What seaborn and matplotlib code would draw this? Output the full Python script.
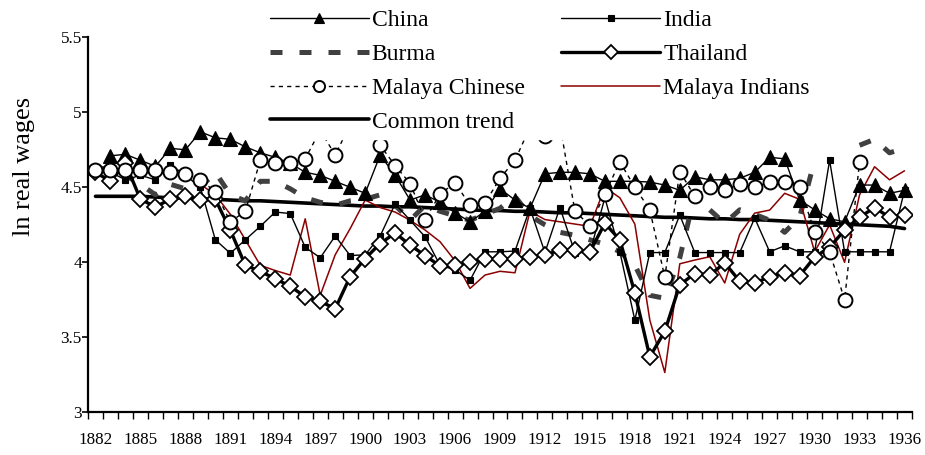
import numpy as np
import pandas as pd
import matplotlib
matplotlib.use("Agg")
import matplotlib.pyplot as plt
import seaborn as sns

# ---- data: log real wages, 1882-1936 ----
years = list(range(1882, 1937))
nan = np.nan

china = [nan, 4.71, 4.72, 4.68, 4.64, 4.76, 4.75, 4.87, 4.83, 4.82,
         4.77, 4.73, 4.70, 4.66, 4.60, 4.58, 4.54, 4.50, 4.46, 4.715,
         4.58, 4.415, 4.45, 4.40, 4.33, 4.27, 4.34, 4.49, 4.415, 4.36,
         4.59, 4.60, 4.60, 4.59, 4.54, 4.54, 4.54, 4.535, 4.515, 4.48,
         4.57, 4.55, 4.55, 4.56, 4.60, 4.70, 4.69, 4.415, 4.35, 4.29,
         4.27, 4.515, 4.515, 4.46, 4.48]

india = [4.62, 4.60, 4.55, 4.58, 4.55, 4.65, 4.58, 4.50, 4.15, 4.06,
         4.15, 4.24, 4.335, 4.325, 4.10, 4.03, 4.175, 4.045, 4.05, 4.175,
         4.39, 4.28, 4.17, 3.98, 3.95, 3.88, 4.07, 4.07, 4.075, 4.36,
         4.065, 4.365, 4.065, 4.065, 4.43, 4.07, 3.615, 4.065, 4.065, 4.315,
         4.065, 4.065, 4.065, 4.065, 4.295, 4.07, 4.11, 4.07, 4.07, 4.68,
         4.07, 4.07, 4.07, 4.07, 4.48]

burma = [4.62, 4.63, 4.58, 4.52, 4.45, 4.52, 4.49, 4.50, 4.60, 4.45,
         4.41, 4.54, 4.54, 4.49, 4.43, 4.40, 4.38, 4.41, 4.42, 4.45,
         4.38, 4.28, 4.38, 4.34, 4.31, 4.28, 4.32, 4.36, 4.44, 4.31,
         4.25, 4.20, 4.18, 4.15, 4.12, 4.07, 3.98, 3.78, 3.76, 4.03,
         4.45, 4.35, 4.26, 4.35, 4.32, 4.28, 4.20, 4.30, 4.68, nan,
         nan, 4.78, 4.82, 4.73, 4.76]

thailand = [4.60, 4.54, 4.66, 4.42, 4.37, 4.42, 4.44, 4.415, 4.42, 4.215,
            3.98, 3.94, 3.89, 3.84, 3.77, 3.74, 3.69, 3.905, 4.025, 4.125,
            4.195, 4.115, 4.045, 3.975, 3.98, 4.00, 4.02, 4.02, 4.025, 4.035,
            4.05, 4.08, 4.08, 4.07, 4.26, 4.15, 3.795, 3.37, 3.54, 3.85,
            3.925, 3.915, 3.995, 3.875, 3.86, 3.905, 3.93, 3.91, 4.035, 4.10,
            4.215, 4.30, 4.365, 4.30, 4.315]

malaya_chinese = [4.615, 4.615, 4.615, 4.615, 4.615, 4.60, 4.59, 4.55, 4.47, 4.27,
                  4.34, 4.68, 4.66, 4.66, 4.69, 4.88, 4.715, 4.92, 4.90, 4.78,
                  4.645, 4.525, 4.285, 4.455, 4.53, 4.38, 4.395, 4.56, 4.68, 4.90,
                  4.845, 4.92, 4.34, 4.245, 4.455, 4.67, 4.50, 4.35, 3.90, 4.605,
                  4.44, 4.505, 4.48, 4.525, 4.50, 4.535, 4.535, 4.50, 4.205, 4.07,
                  3.75, 4.67, nan, nan, nan]

malaya_indians = [nan, nan, nan, nan, nan, nan, nan, 4.52, 4.45, 4.32,
                  4.15, 3.98, 3.945, 3.915, 4.29, 3.78, 4.05, 4.225, 4.415, 4.365,
                  4.335, 4.28, 4.215, 4.137, 4.01, 3.826, 3.915, 3.94, 3.93, 4.34,
                  4.285, 4.27, 4.255, 4.24, 4.50, 4.43, 4.255, 3.615, 3.265, 3.99,
                  4.015, 4.037, 3.862, 4.187, 4.328, 4.348, 4.46, 4.42, 4.07, 4.25,
                  4.00, 4.45, 4.637, 4.55, 4.61]

common_trend = [4.44, 4.44, 4.44, 4.44, 4.435, 4.43, 4.43, 4.425, 4.42, 4.415,
                4.41, 4.41, 4.405, 4.40, 4.395, 4.39, 4.385, 4.38, 4.375, 4.375,
                4.37, 4.37, 4.365, 4.36, 4.355, 4.35, 4.345, 4.345, 4.34, 4.34,
                4.335, 4.33, 4.33, 4.325, 4.32, 4.315, 4.31, 4.305, 4.30, 4.30,
                4.295, 4.29, 4.29, 4.285, 4.285, 4.28, 4.275, 4.27, 4.265, 4.26,
                4.255, 4.25, 4.245, 4.24, 4.225]

series_labels = ["China", "India", "Burma", "Thailand",
                 "Malaya Chinese", "Malaya Indians", "Common trend"]
y_ticks = [3, 3.5, 4, 4.5, 5, 5.5]
y_tick_labels = ["3", "3.5", "4", "4.5", "5", "5.5"]
x_label_years = years[::3]

# ---- styling ----
sns.set_theme(style="white")
plt.rcParams["font.family"] = ["Liberation Serif", "DejaVu Serif"]
plt.rcParams["axes.linewidth"] = 1.6
for key in ("text.color", "axes.labelcolor", "xtick.color", "ytick.color",
            "axes.edgecolor"):
    plt.rcParams[key] = "black"

fig = plt.figure(figsize=(9.25, 4.55), dpi=100)
ax = fig.add_axes([88 / 925, 1 - 412.3 / 455, 824 / 925, 375 / 455])


def draw(values, z, **kw):
    """Draw one series, leaving gaps where values are missing."""
    s = pd.Series(values, index=years, dtype=float)
    run_id = s.isna().cumsum()
    first = None
    valid = s.dropna()
    for _, part in valid.groupby(run_id[s.notna()]):
        sns.lineplot(x=part.index.to_numpy(), y=part.to_numpy(), ax=ax,
                     estimator=None, errorbar=None, sort=False, legend=False,
                     zorder=z, **kw)
        if first is None:
            first = ax.lines[-1]
    return first


h_trend = draw(common_trend, 2.0, color="black", linewidth=2.6,
               label=series_labels[6])
h_burma = draw(burma, 2.2, color="#404040", linewidth=3.6,
               linestyle=(0, (2.4, 3.4)), label=series_labels[2])
h_mind = draw(malaya_indians, 2.4, color="#8b0000", linewidth=1.1,
              label=series_labels[5])
h_china = draw(china, 2.6, color="black", linewidth=1.0, marker="^",
               markersize=9.5, markerfacecolor="black",
               markeredgecolor="black", markeredgewidth=0.8,
               label=series_labels[0])
h_india = draw(india, 2.8, color="black", linewidth=1.0, marker="s",
               markersize=5, markerfacecolor="black",
               markeredgecolor="black", markeredgewidth=0.8,
               label=series_labels[1])
h_thai = draw(thailand, 3.0, color="black", linewidth=2.4, marker="D",
              markersize=8.3, markerfacecolor="white",
              markeredgecolor="black", markeredgewidth=1.3,
              label=series_labels[3])
h_mchi = draw(malaya_chinese, 3.2, color="black", linewidth=1.0,
              linestyle=(0, (3, 3)), marker="o", markersize=10,
              markerfacecolor="white", markeredgecolor="black",
              markeredgewidth=1.4, label=series_labels[4])

if ax.get_legend() is not None:
    ax.get_legend().remove()

# ---- axes ----
ax.set_xlim(1881.5, 1936.5)
ax.set_ylim(3, 5.5)
ax.set_xticks(x_label_years)
ax.set_xticklabels([str(y) for y in x_label_years], fontsize=12.3)
ax.set_xticks(np.arange(1881.5, 1937, 1.0), minor=True)
ax.tick_params(axis="x", which="major", length=0, pad=14)
ax.tick_params(axis="x", which="minor", length=5, width=1.0,
               direction="out", bottom=True, color="black")
ax.set_yticks(y_ticks)
ax.set_yticklabels(y_tick_labels, fontsize=12.3)
ax.tick_params(axis="y", which="major", length=4, width=1.2,
               direction="out", left=True, color="black", pad=0.5)
ax.set_xlabel("")
ax.set_ylabel("ln real wages", fontsize=19)
ax.yaxis.set_label_coords(-0.064, 0.655)

for side in ("top", "right"):
    ax.spines[side].set_visible(False)
ax.grid(False)

handles = [h_china, h_burma, h_mchi, h_trend, h_india, h_thai, h_mind]
labels = [h.get_label() for h in handles]
leg = fig.legend(handles, labels, ncol=2, loc="upper left",
                 bbox_to_anchor=(252 / 925, 1 + 8 / 455),
                 fontsize=17, frameon=True, fancybox=False,
                 facecolor="white", edgecolor="white", framealpha=1,
                 handlelength=4.2, handletextpad=0.12, columnspacing=1.55,
                 labelspacing=0.52, borderpad=0.25, markerscale=0.8)
leg.set_zorder(10)

fig.savefig("out.png", dpi=100)
